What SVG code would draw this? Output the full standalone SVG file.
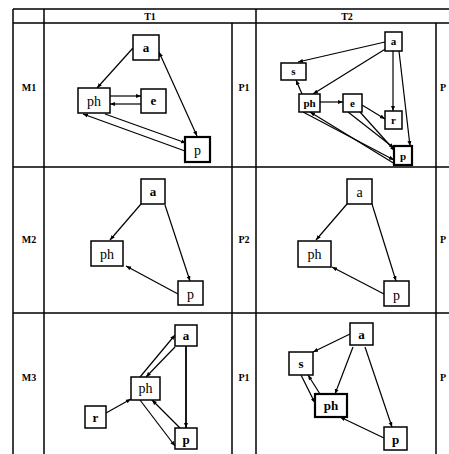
<svg xmlns="http://www.w3.org/2000/svg" width="449" height="454" viewBox="0 0 449 454">
<style>
.grid{stroke:#000;stroke-width:1.5;fill:none}
.box{fill:#fff;stroke:#000;stroke-width:1.5}
.boxt{fill:#fff;stroke:#000;stroke-width:2.2}
.lbl{font-family:"Liberation Serif",serif;font-weight:bold;font-size:10px;fill:#000;text-anchor:middle}
.t{font-family:"Liberation Serif",serif;font-size:14px;fill:#000;text-anchor:middle}
.tb{font-family:"Liberation Serif",serif;font-weight:bold;font-size:13px;fill:#000;text-anchor:middle}
.ts{font-family:"Liberation Serif",serif;font-weight:bold;font-size:11px;fill:#000;text-anchor:middle}
.e{stroke:#000;stroke-width:1.2;fill:none;marker-end:url(#ah)}
.d{stroke:#000;stroke-width:1.2;fill:none;marker-end:url(#ah);marker-start:url(#as)}
</style>
<defs>
<marker id="ah" viewBox="0 0 10 10" refX="10" refY="5" markerWidth="5" markerHeight="5" orient="auto" markerUnits="userSpaceOnUse"><path d="M0,1 L10,5 L0,9 z" fill="#000"/></marker>
<marker id="as" viewBox="0 0 10 10" refX="0" refY="5" markerWidth="5" markerHeight="5" orient="auto" markerUnits="userSpaceOnUse"><path d="M10,1 L0,5 L10,9 z" fill="#000"/></marker>
</defs>
<rect width="449" height="454" fill="#fff"/>
<g id="table">
<path class="grid" d="M13,9 H449 M13,23 H449 M13,167 H449 M13,313 H449 M13,9 V454 M44,9 V454 M256,9 V454 M232,23 V454 M436,23 V454"/>
<text class="lbl" x="150" y="20">T1</text>
<text class="lbl" x="347" y="20">T2</text>
<text class="lbl" x="29" y="91">M1</text>
<text class="lbl" x="29" y="243">M2</text>
<text class="lbl" x="29" y="381">M3</text>
<text class="lbl" x="244" y="91">P1</text>
<text class="lbl" x="244" y="243">P2</text>
<text class="lbl" x="244" y="381">P1</text>
<text class="lbl" x="443" y="91">P</text>
<text class="lbl" x="443" y="243">P</text>
<text class="lbl" x="443" y="381">P</text>
</g>
<g id="connectors">
<!-- M1 -->
<line class="e" x1="133" y1="48" x2="97" y2="88"/>
<line class="d" x1="159" y1="52" x2="197" y2="136"/>
<line class="e" x1="110" y1="96" x2="141" y2="96"/>
<line class="e" x1="141" y1="104" x2="110" y2="104"/>
<line class="e" x1="105" y1="114" x2="186" y2="143"/>
<line class="e" x1="185" y1="151" x2="83" y2="114"/>
<!-- P1 top -->
<line class="e" x1="385" y1="42" x2="298" y2="62"/>
<line class="e" x1="387" y1="48" x2="313" y2="94"/>
<line class="e" x1="302" y1="94" x2="296" y2="80"/>
<line class="e" x1="320" y1="102" x2="343" y2="102"/>
<line class="e" x1="393" y1="51" x2="393" y2="111"/>
<line class="e" x1="399" y1="51" x2="410" y2="146"/>
<line class="e" x1="362" y1="105" x2="385" y2="119"/>
<line class="e" x1="348" y1="112" x2="394" y2="148"/>
<line class="e" x1="360" y1="112" x2="395" y2="151"/>
<line class="e" x1="303" y1="112" x2="394" y2="160"/>
<line class="e" x1="395" y1="164" x2="310" y2="112"/>
<!-- M2 -->
<line class="e" x1="141" y1="204" x2="110" y2="240"/>
<line class="e" x1="165" y1="205" x2="190" y2="281"/>
<line class="e" x1="178" y1="294" x2="126" y2="266"/>
<!-- P2 -->
<line class="e" x1="347" y1="204" x2="316" y2="240"/>
<line class="e" x1="372" y1="204" x2="396" y2="281"/>
<line class="e" x1="384" y1="294" x2="332" y2="267"/>
<!-- M3 -->
<line class="e" x1="140" y1="377" x2="175" y2="335"/>
<line class="e" x1="175" y1="347" x2="146" y2="377"/>
<line class="e" x1="186" y1="346" x2="186" y2="428" style="stroke-width:1.8"/>
<line class="e" x1="106" y1="413" x2="131" y2="399"/>
<line class="e" x1="140" y1="400" x2="175" y2="446"/>
<line class="e" x1="180" y1="428" x2="152" y2="400"/>
<!-- P1 bottom -->
<line class="e" x1="350" y1="334" x2="313" y2="352"/>
<line class="e" x1="353" y1="347" x2="335" y2="394"/>
<line class="e" x1="365" y1="347" x2="392" y2="427"/>
<line class="e" x1="301" y1="375" x2="315" y2="403"/>
<line class="e" x1="320" y1="394" x2="308" y2="375"/>
<line class="e" x1="384" y1="438" x2="340" y2="417"/>
</g>
<g id="m1-a"><rect class="box" x="133" y="35" width="26" height="25"/><text class="tb" x="146" y="52">a</text></g>
<g id="m1-ph"><rect class="box" x="78" y="88" width="32" height="25"/><text class="t" x="94" y="106">ph</text></g>
<g id="m1-e"><rect class="box" x="141" y="89" width="25" height="24"/><text class="tb" x="153.5" y="105">e</text></g>
<g id="m1-p"><rect class="boxt" x="185" y="137" width="25" height="25"/><text class="t" x="197.5" y="155">p</text></g>

<g id="p1t-a"><rect class="box" x="385" y="32" width="17" height="19"/><text class="ts" x="393.5" y="45">a</text></g>
<g id="p1t-s"><rect class="box" x="281" y="63" width="25" height="17"/><text class="ts" x="293.5" y="75">s</text></g>
<g id="p1t-ph"><rect class="box" x="299" y="94" width="21" height="18"/><text class="ts" x="309.5" y="107">ph</text></g>
<g id="p1t-e"><rect class="box" x="343" y="94" width="19" height="18"/><text class="ts" x="352.5" y="107">e</text></g>
<g id="p1t-r"><rect class="box" x="385" y="111" width="17" height="18"/><text class="ts" x="393.5" y="124">r</text></g>
<g id="p1t-p"><rect class="boxt" x="394" y="146" width="18" height="19"/><text class="ts" x="403" y="160">p</text></g>

<g id="m2-a"><rect class="box" x="141" y="179" width="24" height="25"/><text class="tb" x="153" y="196">a</text></g>
<g id="m2-ph"><rect class="box" x="91" y="241" width="32" height="25"/><text class="t" x="107" y="259">ph</text></g>
<g id="m2-p"><rect class="box" x="178" y="281" width="25" height="24"/><text class="t" x="190.5" y="299">p</text></g>

<g id="p2-a"><rect class="box" x="347" y="179" width="25" height="25"/><text class="t" x="359.5" y="197">a</text></g>
<g id="p2-ph"><rect class="box" x="298" y="241" width="33" height="26"/><text class="t" x="314.5" y="259">ph</text></g>
<g id="p2-p"><rect class="box" x="384" y="281" width="25" height="25"/><text class="t" x="396.5" y="300">p</text></g>

<g id="m3-a"><rect class="box" x="175" y="325" width="22" height="21"/><text class="tb" x="186" y="340">a</text></g>
<g id="m3-ph"><rect class="box" x="131" y="377" width="29" height="23"/><text class="t" x="145.5" y="393">ph</text></g>
<g id="m3-r"><rect class="box" x="85" y="406" width="21" height="22"/><text class="tb" x="95.5" y="422">r</text></g>
<g id="m3-p"><rect class="box" x="175" y="428" width="22" height="21"/><text class="tb" x="186" y="444">p</text></g>

<g id="p1b-a"><rect class="box" x="350" y="323" width="23" height="22"/><text class="tb" x="361.5" y="339">a</text></g>
<g id="p1b-s"><rect class="box" x="289" y="352" width="24" height="23"/><text class="tb" x="301" y="368">s</text></g>
<g id="p1b-ph"><rect class="boxt" x="315" y="394" width="32" height="23"/><text class="tb" x="331" y="410">ph</text></g>
<g id="p1b-p"><rect class="box" x="384" y="427" width="23" height="23"/><text class="tb" x="395.5" y="444">p</text></g>
</svg>
